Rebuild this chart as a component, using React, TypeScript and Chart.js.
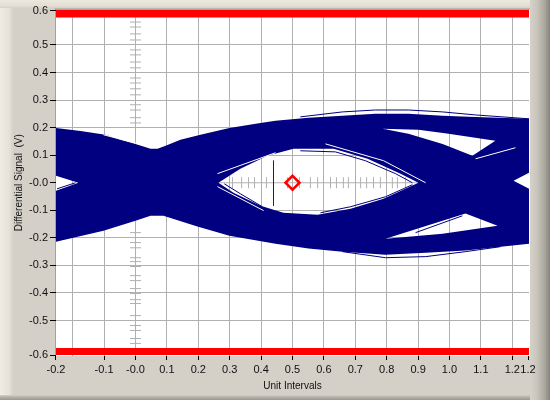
import React, { useEffect, useRef } from "react";
import { Chart, registerables } from "chart.js";

Chart.register(...registerables);

const NAVY = "#000080";
const GRID = "#b0b0b0";
const X_MIN = -0.25318;
const X_MAX = 1.25318;
const Y_MIN = -0.6286;
const Y_MAX = 0.6286;

const xTickValues = [-0.2532, -0.2, -0.1, 0, 0.1, 0.2, 0.3, 0.4, 0.5, 0.6, 0.7, 0.8, 0.9, 1.0, 1.1, 1.2, 1.25];
const xTickLabels = ["-0.2", "", "-0.1", "-0.0", "0.1", "0.2", "0.3", "0.4", "0.5", "0.6", "0.7", "0.8", "0.9", "1.0", "1.1", "1.2", "1.2"];
const yTickValues = [-0.625, -0.5, -0.4, -0.3, -0.2, -0.1, 0, 0.1, 0.2, 0.3, 0.4, 0.5, 0.625];
const yTickLabels = ["-0.6", "-0.5", "-0.4", "-0.3", "-0.2", "-0.1", "-0.0", "0.1", "0.2", "0.3", "0.4", "0.5", "0.6"];

// Outer envelope of the traces, clockwise, including the edge wedges
const envelopeX = [-0.2532, -0.175, -0.096, -0.048, 0, 0.048, 0.07, 0.096, 0.143, 0.207, 0.299, 0.398, 0.446, 0.551, 0.659, 0.764, 0.869, 0.978, 1.083, 1.2532, 1.2532, 1.204, 1.2532, 1.2532, 1.051, 0.924, 0.796, 0.659, 0.551, 0.446, 0.299, 0.197, 0.089, 0.048, 0, -0.102, -0.2532, -0.2532, -0.182, -0.2532];
const envelopeY = [0.199, 0.188, 0.174, 0.156, 0.141, 0.123, 0.123, 0.134, 0.156, 0.174, 0.199, 0.217, 0.225, 0.236, 0.243, 0.25, 0.25, 0.243, 0.239, 0.232, 0.036, 0.007, -0.022, -0.221, -0.246, -0.254, -0.261, -0.25, -0.239, -0.221, -0.192, -0.159, -0.12, -0.12, -0.138, -0.174, -0.214, -0.029, 0, 0.025];

// Holes, counter-clockwise
const eyeX = [0.264, 0.312, 0.398, 0.471, 0.58, 0.685, 0.79, 0.901, 0.844, 0.739, 0.631, 0.503, 0.42, 0.334];
const eyeY = [0, -0.036, -0.083, -0.109, -0.116, -0.094, -0.058, 0, 0.033, 0.087, 0.123, 0.123, 0.098, 0.051];
const upperHoleX = [0.787, 0.869, 0.978, 1.073, 1.146, 0.997, 0.901];
const upperHoleY = [0.196, 0.178, 0.141, 0.098, 0.152, 0.178, 0.192];
const lowerHoleX = [0.796, 0.978, 1.153, 1.051];
const lowerHoleY = [-0.203, -0.185, -0.156, -0.112];

// Single blue traces
const peakTopX = [0.525, 0.659, 0.764, 0.869, 0.978, 1.083, 1.2532];
const peakTopY = [0.239, 0.257, 0.264, 0.264, 0.257, 0.246, 0.232];
const peakBottomX = [0.659, 0.796, 0.924, 1.051, 1.162];
const peakBottomY = [-0.25, -0.272, -0.268, -0.25, -0.232];
const eyeTraceTopX = [0.882, 0.828, 0.732, 0.637, 0.525];
const eyeTraceTopY = [0, 0.033, 0.08, 0.112, 0.116];
const eyeTraceLeftX = [0.283, 0.334, 0.404];
const eyeTraceLeftY = [-0.004, -0.04, -0.087];
const eyeTraceRightX = [0.882, 0.796, 0.685, 0.589];
const eyeTraceRightY = [-0.007, -0.051, -0.087, -0.109];
const wedgeTraceX = [-0.25, -0.191];
const wedgeTraceY = [-0.022, 0];
const lowerHoleTraceX = [0.892, 1.041];
const lowerHoleTraceY = [-0.181, -0.12];

// Gaps between traces
const gapAX = [-0.102, -0.016, 0.054];
const gapAY = [0.174, 0.149, 0.127];
const gapBX = [0.605, 0.79, 0.924];
const gapBY = [0.141, 0.08, 0];
const gapCX = [0.261, 0.446];
const gapCY = [0.033, 0.109];
const gapDX = [0.261, 0.408];
const gapDY = [-0.014, -0.101];
const gapEX = [1.083, 1.21];
const gapEY = [0.087, 0.127];

// Limit bands
const bandX = [X_MIN, X_MAX, X_MAX, X_MIN];
const topBandY = [0.6, 0.6, 0.6286, 0.6286];
const bottomBandY = [-0.625, -0.625, -0.6, -0.6];

// Cross-hair hairs
const hairYTop = [0.583, 0.565, 0.54, 0.518, 0.482, 0.464, 0.438, 0.417, 0.38, 0.362, 0.341, 0.319, 0.283, 0.264, 0.236, 0.217];
const hairYBottom = [-0.181, -0.217, -0.236, -0.272, -0.286, -0.304, -0.337, -0.355, -0.384, -0.402, -0.424, -0.438, -0.482, -0.518, -0.536, -0.565, -0.583];
const hairX = [0.309, 0.338, 0.36, 0.379, 0.417, 0.484, 0.522, 0.557, 0.58, 0.621, 0.64, 0.662, 0.678, 0.717, 0.736, 0.758, 0.78, 0.818, 0.834, 0.86];
const crossLineX = [0.25, 0.91];
const crossLineY = [0, 0];

const markerX = [0.5];
const markerY = [0];
const cursorX = [0.4395, 0.4395];
const cursorY = [0.08, -0.083];

const zip = (xs: number[], ys: number[]) => xs.map((x, i) => ({ x, y: ys[i] }));

const withHoles = () => {
  const outer = zip(envelopeX, envelopeY);
  const path = [...outer, outer[0]];
  for (const [xs, ys] of [[eyeX, eyeY], [upperHoleX, upperHoleY], [lowerHoleX, lowerHoleY]]) {
    const hole = zip(xs, ys);
    path.push(...hole, hole[0], outer[0]);
  }
  return path;
};

const stroke = (xs: number[], ys: number[], color: string, width = 1) => ({
  data: zip(xs, ys),
  showLine: true,
  borderColor: color,
  borderWidth: width,
  pointRadius: 0,
  fill: false,
});

const shape = (data: { x: number; y: number }[], color: string) => ({
  data,
  showLine: true,
  fill: "shape",
  backgroundColor: color,
  borderColor: "transparent",
  borderWidth: 0,
  pointRadius: 0,
});

const hairs = (data: { x: number; y: number }[], rotation: number) => ({
  data,
  showLine: false,
  pointStyle: "line",
  pointRadius: 5.5,
  pointRotation: rotation,
  pointBorderColor: GRID,
  pointBorderWidth: 1,
  pointBackgroundColor: GRID,
});

const panelPlugin = {
  id: "panel",
  beforeDraw(chart: any) {
    const { ctx, chartArea: a } = chart;
    ctx.save();
    ctx.fillStyle = "#ffffff";
    ctx.fillRect(a.left, a.top, a.right - a.left + 1, a.bottom - a.top);
    ctx.fillStyle = "#a0a0a0";
    ctx.fillRect(a.left - 1, a.top - 1, a.right - a.left + 2, 1);
    ctx.fillRect(a.left - 1, a.top - 1, 1, a.bottom - a.top + 1);
    ctx.restore();
  },
};

const FONT = "'Liberation Sans', Arial, sans-serif";

export default function App() {
  const ref = useRef<HTMLCanvasElement>(null);

  useEffect(() => {
    document.body.style.margin = "0";
    const chart = new Chart(ref.current as HTMLCanvasElement, {
      type: "scatter",
      plugins: [panelPlugin],
      data: {
        datasets: [
          {
            data: zip(markerX, markerY),
            showLine: false,
            pointStyle: "rectRot",
            pointRadius: 7,
            pointBorderColor: "#ff0000",
            pointBorderWidth: 2.5,
            pointBackgroundColor: "transparent",
          },
          stroke(cursorX, cursorY, "#800000"),
          stroke(gapAX, gapAY, "#ffffff"),
          stroke(gapBX, gapBY, "#ffffff"),
          stroke(gapCX, gapCY, "#ffffff"),
          stroke(gapDX, gapDY, "#ffffff"),
          stroke(gapEX, gapEY, "#ffffff"),
          stroke(peakTopX, peakTopY, NAVY),
          stroke(peakBottomX, peakBottomY, NAVY),
          stroke(eyeTraceTopX, eyeTraceTopY, NAVY),
          stroke(eyeTraceLeftX, eyeTraceLeftY, NAVY),
          stroke(eyeTraceRightX, eyeTraceRightY, NAVY),
          stroke(wedgeTraceX, wedgeTraceY, NAVY),
          stroke(lowerHoleTraceX, lowerHoleTraceY, NAVY),
          shape(withHoles(), NAVY),
          shape(zip(bandX, topBandY), "#ff0000"),
          shape(zip(bandX, bottomBandY), "#ff0000"),
          hairs(hairYTop.map((y) => ({ x: 0, y })), 0),
          hairs(hairYBottom.map((y) => ({ x: 0, y })), 0),
          hairs(hairX.map((x) => ({ x, y: 0 })), 90),
          stroke(crossLineX, crossLineY, GRID),
        ] as any,
      },
      options: {
        animation: false,
        responsive: false,
        devicePixelRatio: 1,
        events: [],
        layout: { padding: { left: 0, right: 21, top: 9, bottom: 0 } },
        plugins: { legend: { display: false }, tooltip: { enabled: false }, title: { display: false } },
        scales: {
          x: {
            type: "linear",
            min: X_MIN,
            max: X_MAX,
            afterBuildTicks: (s: any) => {
              s.ticks = xTickValues.map((value) => ({ value }));
            },
            afterFit: (s: any) => {
              s.height = 44;
            },
            border: { display: false },
            grid: {
              lineWidth: 1,
              color: (c: any) => (c.index === 0 || c.index === xTickValues.length - 1 ? "transparent" : GRID),
              tickColor: (c: any) => (c.index === 1 ? "transparent" : "#000000"),
              tickLength: 4,
            },
            ticks: {
              autoSkip: false,
              maxRotation: 0,
              minRotation: 0,
              padding: 3,
              color: "#101010",
              font: { family: FONT, size: 11 },
              callback: (_v: any, i: number) => xTickLabels[i],
            },
            title: {
              display: true,
              text: "Unit Intervals",
              color: "#101010",
              font: { family: FONT, size: 10 },
              padding: { top: 0, bottom: 8 },
            },
          },
          y: {
            type: "linear",
            min: Y_MIN,
            max: Y_MAX,
            afterBuildTicks: (s: any) => {
              s.ticks = yTickValues.map((value) => ({ value }));
            },
            afterFit: (s: any) => {
              s.width = 56;
            },
            border: { display: false },
            grid: {
              lineWidth: 1,
              color: (c: any) =>
                c.index === 0 || c.index === yTickValues.length - 1 || yTickValues[c.index] === 0 ? "transparent" : GRID,
              tickColor: "#000000",
              tickLength: 6,
            },
            ticks: {
              autoSkip: false,
              padding: 2,
              color: "#101010",
              font: { family: FONT, size: 11 },
              callback: (_v: any, i: number) => yTickLabels[i],
            },
            title: {
              display: true,
              text: "Differential Signal  (V)",
              color: "#101010",
              font: { family: FONT, size: 10 },
              padding: { top: 13, bottom: 0 },
            },
          },
        },
      },
    } as any);
    return () => chart.destroy();
  }, []);

  return (
    <div
      style={{
        position: "relative",
        width: 550,
        height: 400,
        backgroundColor: "#d4d0c8",
        backgroundImage: [
          "linear-gradient(to left, #86837c 0, #a8a59e 5px, #c9c5bd 13px, #d6d2ca 20px, transparent 20px)",
          "linear-gradient(to top, #9a9790 0, #b5b2aa 3px, #d4d0c8 5px, transparent 5px)",
          "linear-gradient(to bottom, #ebe8de 0, #e2ded4 6px, #d4d0c8 8px, transparent 8px)",
          "linear-gradient(to right, #efece3 0, #e6e2d8 9px, #d6d2ca 13px, transparent 13px)",
        ].join(","),
      }}
    >
      <canvas ref={ref} width={550} height={400} style={{ display: "block" }} />
    </div>
  );
}
